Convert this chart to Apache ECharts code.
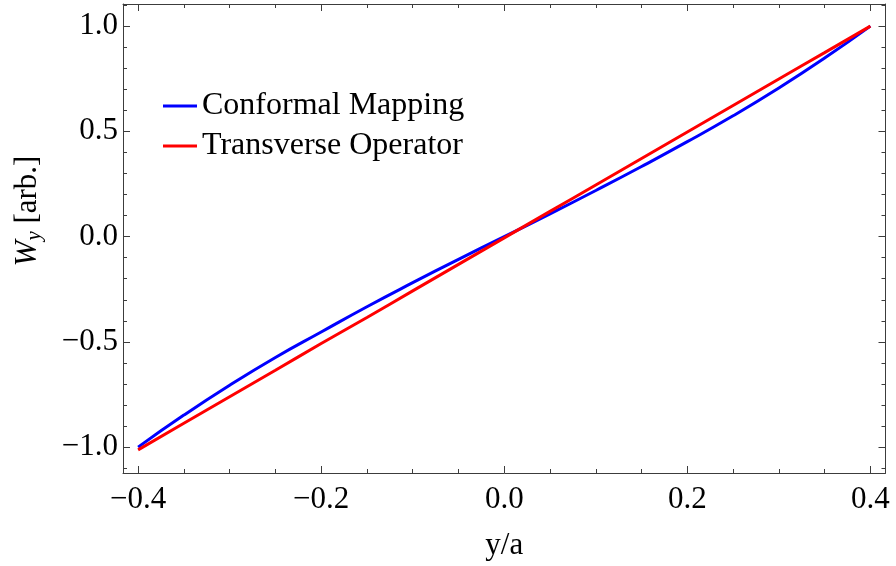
<!DOCTYPE html>
<html>
<head>
<meta charset="utf-8">
<script src="https://cdn.jsdelivr.net/npm/echarts@6/dist/echarts.min.js"></script>
<style>
html, body { margin: 0; padding: 0; background: #fff; }
#chart { width: 896px; height: 566px; }
</style>
</head>
<body>
<div id="chart"></div>
<script>
// y/a sample positions
var yaValues = [-0.40, -0.35, -0.30, -0.25, -0.20, -0.15, -0.10, -0.05, 0.00, 0.05, 0.10, 0.15, 0.20, 0.25, 0.30, 0.35, 0.40];
// W_y
var conformalMapping = [-1.000, -0.848, -0.706, -0.574, -0.453, -0.333, -0.219, -0.108, 0.000, 0.108, 0.219, 0.333, 0.451, 0.574, 0.706, 0.848, 1.000];
var transverseOperator = [-1.013, -0.887, -0.761, -0.635, -0.508, -0.384, -0.258, -0.132, -0.006, 0.120, 0.245, 0.371, 0.497, 0.623, 0.749, 0.874, 1.000];

var seriesNames = ['Conformal Mapping', 'Transverse Operator'];
var xMajorTicks = [-0.4, -0.2, 0.0, 0.2, 0.4];
var xMinorTicks = [-0.4, -0.35, -0.3, -0.25, -0.2, -0.15, -0.1, -0.05, 0, 0.05, 0.1, 0.15, 0.2, 0.25, 0.3, 0.35, 0.4];
var yMajorTicks = [-1.0, -0.5, 0.0, 0.5, 1.0];
var yMinorTicks = [-1.1, -0.9, -0.8, -0.7, -0.6, -0.4, -0.3, -0.2, -0.1, 0.1, 0.2, 0.3, 0.4, 0.6, 0.7, 0.8, 0.9, 1.1];

var xMin = -0.4165, xMax = 0.4165;
var yMin = -1.123, yMax = 1.105;

var font = 'Liberation Serif, Times New Roman, serif';
var frameColor = '#3c3c3c';

function fmt(v) {
  return v.toFixed(1).replace('-', '\u2212');
}

function pairs(xs, ys) {
  var out = [];
  for (var i = 0; i < xs.length; i++) out.push([xs[i], ys[i]]);
  return out;
}

function xAx(pos, ticks, len, showLine, showLabel) {
  return {
    type: 'value', position: pos, min: xMin, max: xMax,
    axisLine: { show: showLine, onZero: false, lineStyle: { color: frameColor, width: 1 } },
    axisTick: { show: true, inside: true, length: len, customValues: ticks, lineStyle: { color: frameColor, width: 1 } },
    axisLabel: showLabel ? { show: true, customValues: ticks, formatter: fmt, fontFamily: font, fontSize: 31, color: '#000', margin: 11 } : { show: false },
    splitLine: { show: false }
  };
}

function yAx(pos, ticks, len, showLine, showLabel) {
  return {
    type: 'value', position: pos, min: yMin, max: yMax,
    axisLine: { show: showLine, onZero: false, lineStyle: { color: frameColor, width: 1 } },
    axisTick: { show: true, inside: true, length: len, customValues: ticks, lineStyle: { color: frameColor, width: 1 } },
    axisLabel: showLabel ? { show: true, customValues: ticks, formatter: fmt, fontFamily: font, fontSize: 31, color: '#000', margin: 5 } : { show: false },
    splitLine: { show: false }
  };
}

var xAxes = [
  xAx('bottom', xMajorTicks, 7, true, true),
  xAx('bottom', xMinorTicks, 4, false, false),
  xAx('top', xMajorTicks, 7, true, false),
  xAx('top', xMinorTicks, 4, false, false)
];
xAxes[0].name = 'y/a';
xAxes[0].nameLocation = 'middle';
xAxes[0].nameGap = 57;
xAxes[0].nameTextStyle = { fontFamily: font, fontSize: 31, color: '#000' };

var yAxes = [
  yAx('left', yMajorTicks, 7, true, true),
  yAx('left', yMinorTicks, 4, false, false),
  yAx('right', yMajorTicks, 7, true, false),
  yAx('right', yMinorTicks, 4, false, false)
];

var chart = echarts.init(document.getElementById('chart'), null, { renderer: 'canvas' });
chart.setOption({
  animation: false,
  backgroundColor: '#fff',
  grid: { left: 123, right: 10.5, top: 4, bottom: 92, containLabel: false },
  legend: {
    orient: 'vertical', left: 163, top: 89, padding: 0, itemWidth: 34, itemHeight: 3, itemGap: 6,
    icon: 'rect',
    textStyle: { fontFamily: font, fontSize: 32, color: '#000', lineHeight: 34 },
    data: seriesNames
  },
  graphic: [{
    type: 'text', x: 28, y: 211, rotation: Math.PI / 2,
    style: {
      text: '{w|W}{s|y} {n|[arb.]}',
      align: 'center', verticalAlign: 'middle',
      fontFamily: font, fontSize: 31, fill: '#000',
      rich: {
        w: { fontFamily: font, fontSize: 31, fontStyle: 'italic', fill: '#000' },
        s: { fontFamily: font, fontSize: 21, fontStyle: 'italic', fill: '#000', verticalAlign: 'bottom', padding: [12, 0, 0, 0] },
        n: { fontFamily: font, fontSize: 31, fill: '#000' }
      }
    }
  }],
  xAxis: xAxes,
  yAxis: yAxes,
  series: [
    {
      name: seriesNames[0], type: 'line', smooth: true, showSymbol: false,
      xAxisIndex: 0, yAxisIndex: 0,
      lineStyle: { color: '#0000ff', width: 3 }, itemStyle: { color: '#0000ff' },
      data: pairs(yaValues, conformalMapping)
    },
    {
      name: seriesNames[1], type: 'line', smooth: true, showSymbol: false,
      xAxisIndex: 0, yAxisIndex: 0,
      lineStyle: { color: '#ff0000', width: 3 }, itemStyle: { color: '#ff0000' },
      data: pairs(yaValues, transverseOperator)
    }
  ]
});
</script>
</body>
</html>
